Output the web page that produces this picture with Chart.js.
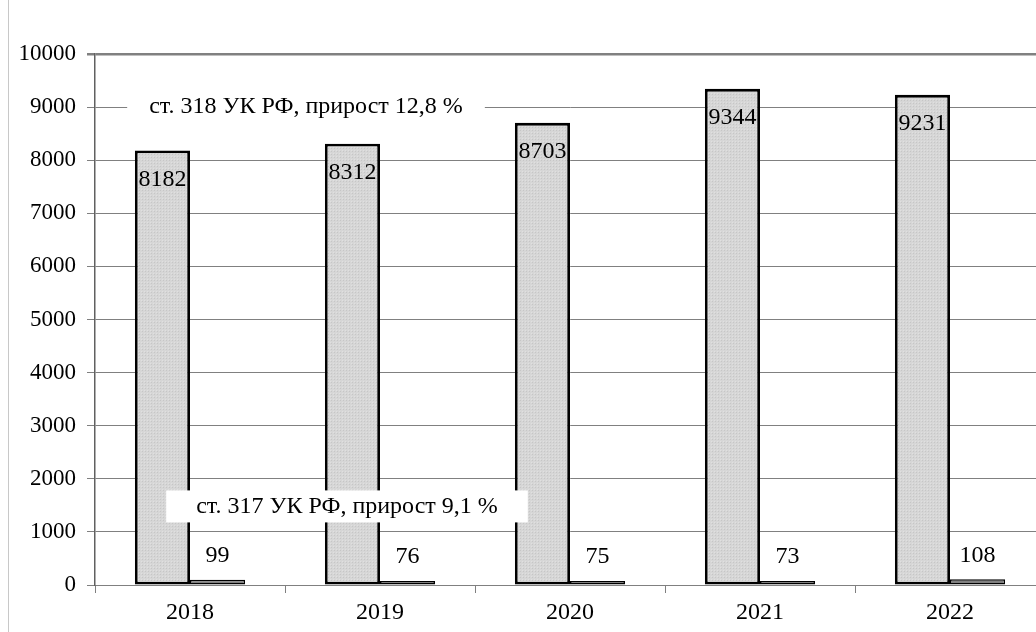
<!DOCTYPE html>
<html>
<head>
<meta charset="utf-8">
<script src="https://cdn.jsdelivr.net/npm/chart.js@4/dist/chart.umd.min.js"></script>
<style>
    html, body { margin: 0; padding: 0; background: #fff; overflow: hidden; }
    #wrap { position: relative; width: 1050px; height: 632px; }
    #edge { position: absolute; left: 8px; top: 0; width: 1px; height: 632px; background: #c8c8c8; }
</style>
</head>
<body>
<div id="wrap">
    <canvas id="chart" width="1050" height="632"></canvas>
    <div id="edge"></div>
</div>
<script>
// Data
const years = ["2018", "2019", "2020", "2021", "2022"];
const art318 = [8182, 8312, 8703, 9344, 9231];
const art317 = [99, 76, 75, 73, 108];
const yTicks = [0, 1000, 2000, 3000, 4000, 5000, 6000, 7000, 8000, 9000, 10000];
const note318 = "ст. 318 УК РФ, прирост 12,8 %";
const note317 = "ст. 317 УК РФ, прирост 9,1 %";

const FONT = "'Liberation Serif', 'DejaVu Serif', serif";

// dotted fill for the tall bars
const makeDots = () => {
    const c = document.createElement("canvas");
    c.width = 3;
    c.height = 3;
    const g = c.getContext("2d");
    g.fillStyle = "#d6d6d6";
    g.fillRect(0, 0, 3, 3);
    g.fillStyle = "#c6c6c6";
    g.fillRect(1, 1, 1, 1);
    g.fillStyle = "#e0e0e0";
    g.fillRect(0, 0, 1, 1);
    return g.createPattern(c, "repeat");
};

// value labels
const valueLabels = {
    id: "valueLabels",
    afterDatasetsDraw(chart) {
        const ctx = chart.ctx;
        ctx.save();
        ctx.fillStyle = "#000";
        ctx.font = "24px " + FONT;
        ctx.textAlign = "center";
        ctx.textBaseline = "middle";
        chart.getDatasetMeta(0).data.forEach((bar, i) => {
            ctx.fillText(String(art318[i]), bar.x, bar.y + 29);
        });
        chart.getDatasetMeta(1).data.forEach((bar, i) => {
            ctx.fillText(String(art317[i]), bar.x, bar.y - 24);
        });
        ctx.restore();
    }
};

// text boxes with white background
const notes = {
    id: "notes",
    afterDatasetsDraw(chart) {
        const ctx = chart.ctx;
        const x = chart.scales.x;
        const y = chart.scales.y;
        const box = (text, cx, cy, padX, h) => {
            ctx.font = "24px " + FONT;
            const w = ctx.measureText(text).width;
            ctx.fillStyle = "#fff";
            ctx.fillRect(cx - w / 2 - padX, cy - h / 2, w + padX * 2, h);
            ctx.fillStyle = "#000";
            ctx.textAlign = "center";
            ctx.textBaseline = "middle";
            ctx.fillText(text, cx, cy);
        };
        ctx.save();
        const mid01 = (x.getPixelForValue(0) + x.getPixelForValue(1)) / 2;
        box(note318, mid01 + 21, y.getPixelForValue(9000), 22, 30);
        box(note317, mid01 + 62, y.getPixelForValue(1480), 30, 32);
        ctx.restore();
    }
};

new Chart(document.querySelector("#chart"), {
    type: "bar",
    data: {
        labels: years,
        datasets: [
            {
                label: "ст. 318 УК РФ",
                data: art318,
                backgroundColor: makeDots(),
                borderColor: "#000",
                borderWidth: 2.8,
                borderSkipped: false,
                categoryPercentage: 0.58,
                barPercentage: 1
            },
            {
                label: "ст. 317 УК РФ",
                data: art317,
                backgroundColor: "#808080",
                borderColor: "#000",
                borderWidth: 1.5,
                borderSkipped: false,
                categoryPercentage: 0.58,
                barPercentage: 1
            }
        ]
    },
    options: {
        responsive: false,
        animation: false,
        layout: {padding: {top: 54, right: 5, left: 0, bottom: 0}},
        plugins: {legend: {display: false}, tooltip: {enabled: false}},
        scales: {
            x: {
                grid: {
                    offset: true,
                    drawOnChartArea: false,
                    tickLength: 8,
                    color: "#808080"
                },
                border: {color: "#808080", width: 1},
                ticks: {
                    color: "#000",
                    font: {family: FONT, size: 24},
                    padding: 5
                },
                afterFit: (scale) => { scale.height = 47; }
            },
            y: {
                min: 0,
                max: 10000,
                afterBuildTicks: (scale) => {
                    scale.ticks = yTicks.map(v => ({value: v}));
                },
                grid: {
                    color: "#808080",
                    lineWidth: (c) => c.tick && c.tick.value === 10000 ? 2.5 : 1,
                    tickLength: 8
                },
                border: {color: "#606060", width: 1.5},
                ticks: {
                    color: "#000",
                    font: {family: FONT, size: 23},
                    padding: 11,
                    callback: (v) => String(v)
                },
                afterFit: (scale) => { scale.width = 95; }
            }
        }
    },
    plugins: [valueLabels, notes]
});
</script>
</body>
</html>
